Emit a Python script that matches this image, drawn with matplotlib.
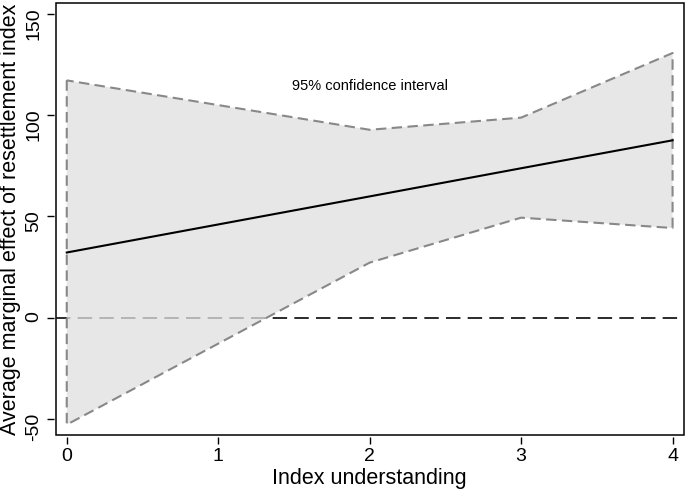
import matplotlib
matplotlib.use("Agg")
import matplotlib.pyplot as plt

plt.rcParams['font.family'] = ['Liberation Sans', 'DejaVu Sans']
plt.rcParams['axes.unicode_minus'] = False

# index understanding values and estimated marginal effects
x_vals = [0, 2, 3, 4]
effect = [32.2, 59.9, 73.8, 87.6]
ci_upper = [117.2, 92.8, 98.8, 130.7]
ci_lower = [-52.8, 27.2, 49.4, 44.3]

xticks = [0, 1, 2, 3, 4]
yticks = [-50, 0, 50, 100, 150]

fig = plt.figure(figsize=(6.85, 4.92), dpi=100)
ax = fig.add_axes([0.0813, 0.1159, 0.9167, 0.878])

# reference line at zero (under the shaded band)
ax.axhline(0, color='#1a1a1a', lw=1.3, dashes=(8, 4), zorder=1)

# confidence band
ax.fill_between(x_vals, ci_lower, ci_upper, facecolor='#e0e0e0', alpha=0.76,
                edgecolor='none', zorder=2)
ax.fill_between(x_vals, ci_lower, ci_upper, facecolor='none', edgecolor='#888888',
                lw=1.5, linestyle=(0, (5, 2.6)), zorder=3)

# marginal effect
ax.plot(x_vals, effect, color='black', lw=1.5, zorder=4)

ax.text(2, 114.5, '95% confidence interval', ha='center', va='center', fontsize=10.5)

ax.set_xlim(-0.073, 4.073)
ax.set_ylim(-57.9, 155.4)
ax.set_xticks(xticks)
ax.set_yticks(yticks)
ax.tick_params(direction='out', length=5, width=1, labelsize=14, pad=3)
ax.tick_params(axis='y', labelrotation=90)
for lab in ax.get_yticklabels():
    lab.set_va('center')

for s in ax.spines.values():
    s.set_visible(False)
ax.spines['left'].set_position(('outward', 1.5))
ax.spines['bottom'].set_position(('outward', 1.5))
ax.patch.set_edgecolor('black')
ax.patch.set_linewidth(1.1)

ax.set_xlabel('Index understanding', fontsize=15.5, labelpad=2)
ax.set_ylabel('Average marginal effect of resettlement index', fontsize=15.5, labelpad=3)

fig.savefig('out.png', dpi=100)
